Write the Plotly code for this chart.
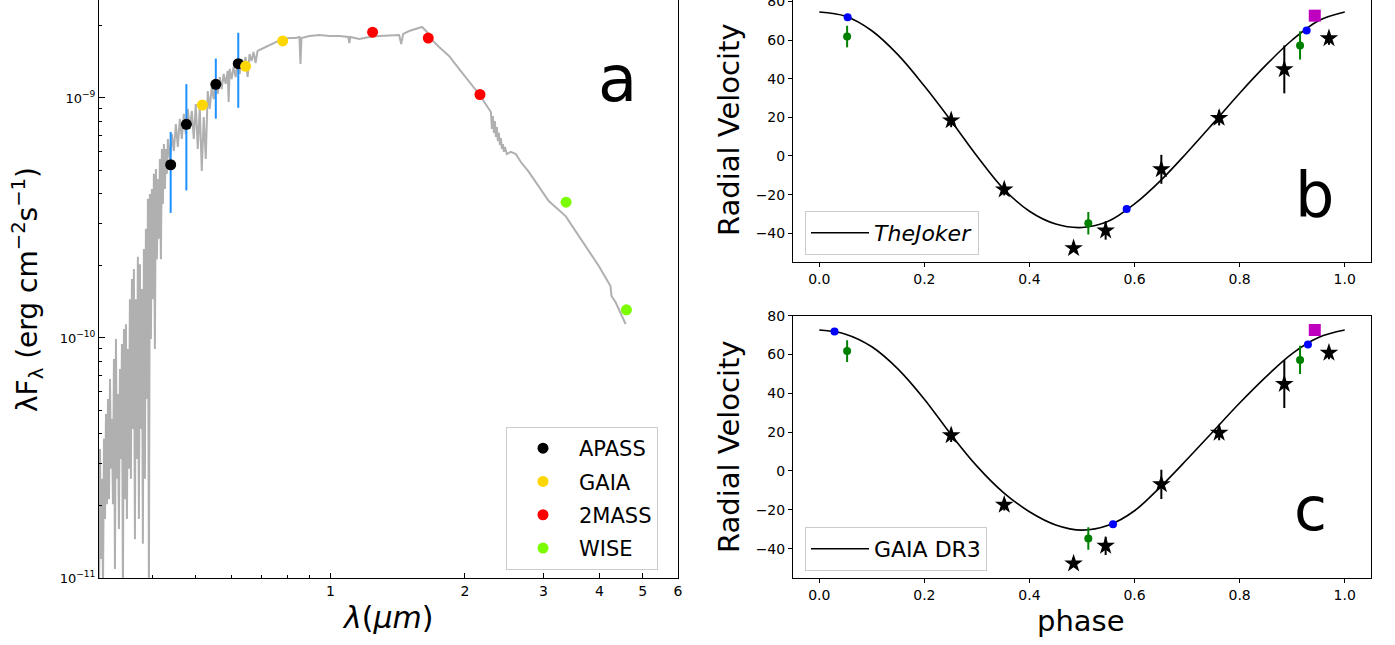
import math
import plotly.graph_objects as go

W, H = 1395, 645
FONT = "DejaVu Sans"

# ---------------- Panel a: spectral energy distribution ----------------
FLUX_UNIT = 1e-10  # erg cm^-2 s^-1

# model spectrum (wavelength in micron, flux in units of 1e-10)
spec_wl = [
    0.3034, 0.3050, 0.3065, 0.3081, 0.3097, 0.3113, 0.3129, 0.3145, 0.3161, 0.3178,
    0.3194, 0.3211, 0.3227, 0.3244, 0.3260, 0.3277, 0.3294, 0.3311, 0.3328, 0.3345,
    0.3362, 0.3380, 0.3397, 0.3415, 0.3432, 0.3450, 0.3468, 0.3486, 0.3504, 0.3522,
    0.3540, 0.3558, 0.3576, 0.3595, 0.3613, 0.3632, 0.3651, 0.3669, 0.3688, 0.3707,
    0.3727, 0.3746, 0.3765, 0.3785, 0.3804, 0.3824, 0.3844, 0.3864, 0.3884, 0.3904,
    0.3924, 0.3944, 0.3965, 0.3985, 0.4006, 0.4026, 0.4047, 0.4068, 0.4089, 0.4110,
    0.4131, 0.4153, 0.4174, 0.4196, 0.4217, 0.4239, 0.4261, 0.4283, 0.4305, 0.4327,
    0.4372, 0.4417, 0.4463, 0.4509, 0.4555, 0.4602, 0.4650, 0.4698, 0.4746, 0.4795,
    0.4845, 0.4895, 0.4945, 0.4996, 0.5048, 0.5100, 0.5153, 0.5206, 0.5260, 0.5314,
    0.5369, 0.5425, 0.5481, 0.5537, 0.5594, 0.5652, 0.5710, 0.5769, 0.5829, 0.5889,
    0.5919, 0.5950, 0.6011, 0.6073, 0.6136, 0.6199, 0.6263, 0.6328, 0.6393, 0.6459,
    0.6526, 0.6593, 0.6661, 0.6730, 0.6800, 0.6870, 0.7013, 0.7158, 0.7307, 0.7459,
    0.7614, 0.7812, 0.8100, 0.8353, 0.8526, 0.8570, 0.8614, 0.8977, 0.9450, 0.9949,
    1.0474, 1.0970, 1.1026, 1.1083, 1.1608, 1.2219, 1.2864, 1.3543, 1.4256, 1.4404,
    1.4553, 1.5009, 1.5478, 1.6040, 1.6456, 1.6801, 1.7513, 1.8436, 1.9409, 2.0432,
    2.1510, 2.2637, 2.2871, 2.2989, 2.3107, 2.3226, 2.3346, 2.3466, 2.3587, 2.3708,
    2.3830, 2.3957, 2.4080, 2.4204, 2.4329, 2.4454, 2.4580, 2.4834, 2.5349, 2.6009,
    2.6686, 2.7807, 2.9273, 3.0815, 3.3621, 3.6535, 3.9890, 4.2365, 4.2585, 4.3470,
    4.4607, 4.5800,
]
spec_flux = [
    0.082, 0.345, 0.120, 0.259, 0.090, 0.380, 0.176, 0.482, 0.203, 0.557,
    0.213, 0.675, 0.285, 0.460, 0.203, 0.818, 0.109, 0.991, 0.259, 0.584,
    0.160, 0.743, 0.313, 0.944, 0.082, 1.09, 0.213, 1.14, 0.176, 0.900,
    0.285, 1.45, 0.259, 1.76, 0.418, 1.94, 0.145, 1.45, 0.313, 2.18,
    0.176, 2.03, 0.418, 1.60, 0.139, 2.35, 0.259, 2.85, 0.557, 3.80,
    0.082, 3.98, 0.991, 4.18, 1.45, 4.83, 0.900, 5.06, 2.13, 4.60,
    2.59, 5.57, 2.13, 6.13, 3.62, 6.43, 4.18, 6.13, 4.83, 6.75,
    5.57, 7.08, 6.01, 7.79, 6.25, 8.18, 6.75, 8.58, 7.08, 9.00,
    7.43, 8.83, 6.75, 9.44, 6.13, 9.17, 4.97, 8.33, 5.57, 10.69,
    9.00, 11.11, 9.90, 12.00, 10.39, 12.23, 10.90, 12.59, 11.44, 12.96,
    9.62, 13.21, 12.00, 13.46, 12.23, 13.99, 12.59, 14.54, 13.72, 14.82,
    12.23, 15.25, 14.26, 15.55, 13.99, 15.70, 16.00, 16.31, 16.63, 16.95,
    17.28, 17.62, 17.78, 17.78, 17.95, 13.86, 17.78, 18.13, 18.30, 18.13,
    18.13, 17.95, 16.95, 17.95, 17.62, 17.95, 18.13, 18.22, 18.30, 16.79,
    18.48, 19.01, 19.39, 19.76, 18.84, 17.62, 16.31, 14.96, 13.21, 11.77,
    10.39, 9.00, 8.74, 7.43, 8.41, 7.15, 8.02, 6.88, 7.57, 6.62,
    7.15, 6.37, 6.81, 6.13, 6.43, 5.96, 6.25, 5.84, 5.96, 5.84,
    5.41, 4.92, 4.30, 3.72, 3.22, 2.535, 1.995, 1.647, 1.496, 1.413,
    1.271, 1.144,
]

# photometry (wavelength in micron, lambda*F_lambda in erg cm^-2 s^-1)
apass_wl = [0.439, 0.476, 0.554, 0.622]
apass_flux = [5.27e-10, 7.77e-10, 1.14e-9, 1.39e-9]
apass_err = [1.95e-10, 3.65e-10, 3.2e-10, 4.8e-10]

gaia_wl = [0.517, 0.646, 0.782]
gaia_flux = [9.35e-10, 1.355e-9, 1.728e-9]

tmass_wl = [1.243, 1.656, 2.162]
tmass_flux = [1.88e-9, 1.777e-9, 1.034e-9]

wise_wl = [3.37, 4.60]
wise_flux = [3.68e-10, 1.31e-10]

sed_xticks = [1, 2, 3, 4, 5, 6]
sed_xminor = [0.4, 0.5, 0.6, 0.7, 0.8, 0.9]
sed_ydecades = [1e-11, 1e-10, 1e-9]
sed_ydecade_text = ["10<sup>\u221211</sup>", "10<sup>\u221210</sup>", "10<sup>\u22129</sup>"]
sed_yminor = [k * 10.0 ** e for e in (-11, -10) for k in range(2, 10)] + [2e-9]

# ---------------- Panels b & c: radial velocity curves ----------------
model_phase = [0.00, 0.05, 0.10, 0.15, 0.20, 0.25, 0.30, 0.35, 0.40, 0.45, 0.50,
               0.55, 0.60, 0.65, 0.70, 0.75, 0.80, 0.85, 0.90, 0.95, 1.00]
joker_rv = [74.5, 72.3, 64.8, 52.3, 36.2, 18.5, 0.0, -16.8, -28.6, -35.2, -37.0,
            -33.8, -24.8, -12.6, 1.8, 17.0, 32.5, 47.0, 60.0, 70.0, 74.5]
gaia_dr3_rv = [72.6, 70.5, 64.0, 52.5, 37.0, 19.0, 2.5, -11.0, -21.0, -27.8, -30.5,
               -28.0, -20.5, -8.0, 6.0, 20.5, 35.0, 48.5, 60.5, 68.8, 72.6]

star_phase = [0.251, 0.352, 0.484, 0.545, 0.651, 0.761, 0.885, 0.970]
star_rv = [18.4, -17.4, -47.7, -38.6, -6.9, 19.7, 44.8, 60.9]
star_err = [3.5, 3.0, 1.5, 4.7, 7.5, 3.9, 12.4, 3.4]

green_phase = [0.053, 0.512, 0.915]
green_rv = [61.8, -34.8, 57.2]
green_err = [5.6, 5.8, 7.3]

square_phase = [0.943]
square_rv = [72.6]

blue_phase_b = [0.054, 0.585, 0.9275]
blue_rv_b = [71.8, -27.4, 64.9]
blue_phase_c = [0.029, 0.559, 0.930]
blue_rv_c = [71.9, -27.5, 65.2]

phase_ticks = [0.0, 0.2, 0.4, 0.6, 0.8, 1.0]
rv_ticks = [-40, -20, 0, 20, 40, 60, 80]

fig = go.Figure()

# --- panel a traces ---
fig.add_trace(go.Scatter(
    x=spec_wl, y=[f * FLUX_UNIT for f in spec_flux], mode="lines",
    line=dict(color="#b0b0b0", width=2), showlegend=False,
    hoverinfo="skip", xaxis="x", yaxis="y"))
fig.add_trace(go.Scatter(
    x=apass_wl, y=apass_flux, mode="markers", name="APASS",
    marker=dict(color="black", size=11),
    error_y=dict(type="data", array=apass_err, color="#1e90ff", thickness=2, width=0),
    xaxis="x", yaxis="y", legend="legend", legendgroup="a1"))
fig.add_trace(go.Scatter(
    x=gaia_wl, y=gaia_flux, mode="markers", name="GAIA",
    marker=dict(color="#ffd700", size=11), xaxis="x", yaxis="y",
    legend="legend", legendgroup="a2"))
fig.add_trace(go.Scatter(
    x=tmass_wl, y=tmass_flux, mode="markers", name="2MASS",
    marker=dict(color="#ff0000", size=11), xaxis="x", yaxis="y",
    legend="legend", legendgroup="a3"))
fig.add_trace(go.Scatter(
    x=wise_wl, y=wise_flux, mode="markers", name="WISE",
    marker=dict(color="#7cfc00", size=11), xaxis="x", yaxis="y",
    legend="legend", legendgroup="a4"))


def add_rv_panel(xa, ya, model_rv, label, blue_phase, blue_rv, legend_name):
    fig.add_trace(go.Scatter(
        x=model_phase, y=model_rv, mode="lines", name=label,
        line=dict(color="black", width=1.6, shape="spline", smoothing=1.0),
        xaxis=xa, yaxis=ya, legend=legend_name))
    fig.add_trace(go.Scatter(
        x=star_phase, y=star_rv, mode="markers", showlegend=False,
        marker=dict(symbol="star", color="black", size=14, line=dict(width=0)),
        error_y=dict(type="data", array=star_err, color="black", thickness=2, width=0),
        xaxis=xa, yaxis=ya))
    fig.add_trace(go.Scatter(
        x=green_phase, y=green_rv, mode="markers", showlegend=False,
        marker=dict(color="#008000", size=8),
        error_y=dict(type="data", array=green_err, color="#008000", thickness=2, width=0),
        xaxis=xa, yaxis=ya))
    fig.add_trace(go.Scatter(
        x=blue_phase, y=blue_rv, mode="markers", showlegend=False,
        marker=dict(color="#0000ff", size=8), xaxis=xa, yaxis=ya))
    fig.add_trace(go.Scatter(
        x=square_phase, y=square_rv, mode="markers", showlegend=False,
        marker=dict(symbol="square", color="#bf00bf", size=12), xaxis=xa, yaxis=ya))


add_rv_panel("x2", "y2", joker_rv, "<i>TheJoker</i>", blue_phase_b, blue_rv_b, "legend2")
add_rv_panel("x3", "y3", gaia_dr3_rv, "GAIA DR3", blue_phase_c, blue_rv_c, "legend3")

frame = dict(showline=True, mirror=True, linecolor="black", linewidth=1,
             showgrid=False, zeroline=False, automargin=False,
             ticklabeloverflow="allow")

rv_x = dict(range=[-0.05, 1.05], tickvals=phase_ticks,
            ticktext=["%.1f" % v for v in phase_ticks], ticks="outside",
            ticklen=4, tickcolor="black", tickfont=dict(size=14, family=FONT), **frame)
rv_y = dict(tickvals=rv_ticks, ticks="outside", ticklen=4, tickcolor="black",
            tickfont=dict(size=14, family=FONT), **frame)

legend_box = dict(xanchor="left", yanchor="top", bordercolor="#cccccc", borderwidth=1,
                  bgcolor="rgba(255,255,255,0.8)")

fig.update_layout(
    width=W, height=H,
    margin=dict(l=0, r=0, t=0, b=0, autoexpand=False),
    plot_bgcolor="white", paper_bgcolor="white",
    font=dict(family=FONT, color="black"),
    xaxis=dict(type="log", domain=[99 / W, 678 / W], anchor="y",
               range=[math.log10(0.3034), math.log10(6.0)],
               tickvals=sed_xticks, ticktext=[str(v) for v in sed_xticks],
               ticks="inside", ticklen=5, tickcolor="black",
               minor=dict(tickvals=sed_xminor, ticks="inside", ticklen=3, tickcolor="black"),
               tickfont=dict(size=14, family=FONT), **frame),
    yaxis=dict(type="log", domain=[1 - 578 / H, 1.0], anchor="x",
               range=[-11, math.log10(2.56e-9)],
               tickvals=sed_ydecades, ticktext=sed_ydecade_text,
               ticks="inside", ticklen=6, tickcolor="black",
               minor=dict(tickvals=sed_yminor, ticks="inside", ticklen=3, tickcolor="black"),
               tickfont=dict(size=13, family=FONT), **frame),
    xaxis2=dict(domain=[793 / W, 1371 / W], anchor="y2", **rv_x),
    yaxis2=dict(domain=[1 - 262.3 / H, 1.0], anchor="x2", range=[-55.0, 80.7], **rv_y),
    xaxis3=dict(domain=[793 / W, 1371 / W], anchor="y3", **rv_x),
    yaxis3=dict(domain=[1 - 578.3 / H, 1 - 315.7 / H], anchor="x3", range=[-55.3, 80.0], **rv_y),
    legend=dict(x=506 / W, y=1 - 427 / H, font=dict(size=21, family=FONT),
                itemwidth=62, tracegroupgap=3, **legend_box),
    legend2=dict(x=805 / W, y=1 - 211 / H, font=dict(size=22, family=FONT),
                 itemwidth=58, **legend_box),
    legend3=dict(x=805 / W, y=1 - 527 / H, font=dict(size=22, family=FONT),
                 itemwidth=58, **legend_box),
)


def label(text, px, py, size, angle=0):
    fig.add_annotation(text=text, x=px / W, y=1 - py / H, xref="paper", yref="paper",
                       showarrow=False, textangle=angle, xanchor="center", yanchor="middle",
                       font=dict(size=size, family=FONT, color="black"))


label("\u03bbF<sub>\u03bb</sub> (erg cm<sup>\u22122</sup>s<sup>\u22121</sup>)", 27, 290, 28, -90)
label("<i>\u03bb</i>(<i>\u03bcm</i>)", 388, 617, 30)
label("Radial Velocity", 729, 130, 29, -90)
label("Radial Velocity", 729, 447, 29, -90)
label("phase", 1081, 621, 29)
label("a", 617, 79, 64)
label("b", 1314, 194, 62)
label("c", 1310, 509, 60)

fig.write_html("out.html")
